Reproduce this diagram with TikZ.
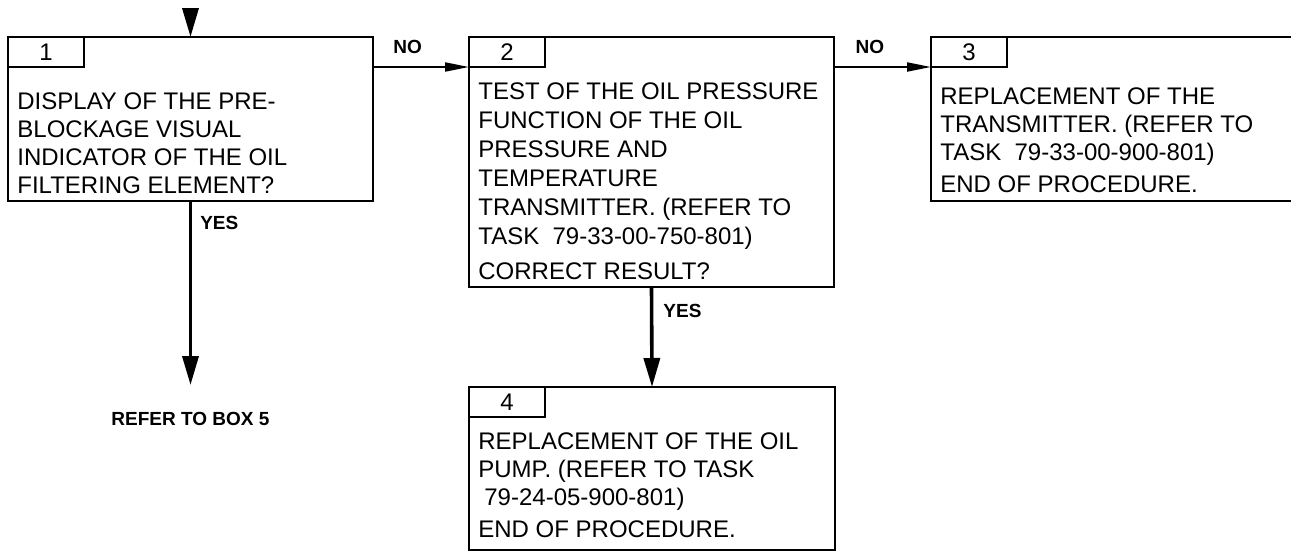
\documentclass[tikz,border=0pt]{standalone}
\usepackage{fontspec}
\setmainfont{Liberation Sans}
\usetikzlibrary{arrows.meta,positioning}

\begin{document}
\begin{tikzpicture}[
  x=0.5pt, y=-0.5pt,
  font=\fontsize{12pt}{14pt}\selectfont,
  taskbox/.style={
    draw,
    line width=1.2pt,
    anchor=north west,
    inner sep=0pt,
    outer sep=0pt,
    minimum width=182.5pt
  },
  numtab/.style={
    draw,
    line width=1.2pt,
    anchor=north west,
    inner sep=0pt,
    outer sep=0pt,
    minimum width=38pt,
    minimum height=15pt
  },
  boxtext/.style={align=left, inner sep=0pt},
  lbl/.style={font=\fontsize{9.5pt}{11pt}\selectfont\bfseries, inner sep=1pt},
  noflow/.style={line width=1pt, -{Triangle[length=12pt,width=4.5pt]}},
  yesflow/.style={line width=1.8pt, -{Triangle[length=14.5pt,width=8pt]}}
]
\useasboundingbox (0,0) rectangle (1291,552);

% boxes
\node[taskbox, minimum height=82pt] (b1) at (8,37) {};
\node[numtab] (t1) at (b1.north west) {1};
\node[boxtext, above right=3.5pt and 4.5pt of b1.south west] (x1) {
  DISPLAY OF THE PRE-\\
  BLOCKAGE VISUAL\\
  INDICATOR OF THE OIL\\
  FILTERING ELEMENT?
};

\node[taskbox, minimum height=125pt] (b2) at (469,37) {};
\node[numtab] (t2) at (b2.north west) {2};
\node[boxtext, font=\fontsize{12pt}{14.5pt}\selectfont,
      above right=3.5pt and 4.5pt of b2.south west] (x2) {
  TEST OF THE OIL PRESSURE\\
  FUNCTION OF THE OIL\\
  PRESSURE AND\\
  TEMPERATURE\\
  TRANSMITTER. (REFER TO\\
  TASK\ \ 79-33-00-750-801)\\[3pt]
  CORRECT RESULT?
};

\node[taskbox, minimum height=82pt] (b3) at (931,37) {};
\node[numtab] (t3) at (b3.north west) {3};
\node[boxtext, above right=4pt and 4.5pt of b3.south west] (x3) {
  REPLACEMENT OF THE\\
  TRANSMITTER. (REFER TO\\
  TASK\ \ 79-33-00-900-801)\\[2pt]
  END OF PROCEDURE.
};

\node[taskbox, minimum height=81.5pt, minimum width=183pt] (b4) at (469,387) {};
\node[numtab] (t4) at (b4.north west) {4};
\node[boxtext, above right=6pt and 4.5pt of b4.south west] (x4) {
  REPLACEMENT OF THE OIL\\
  PUMP. (REFER TO TASK\\
  \hspace*{3pt}79-24-05-900-801)\\[2pt]
  END OF PROCEDURE.
};

% connectors
\coordinate (entry) at ([yshift=14.5pt]b1.north);
\draw[yesflow] (entry) -- (b1.north);
\draw[noflow] (b1.east |- t2.south west) -- node[lbl, above=5pt, pos=0.36] (no1) {NO} (t2.south west);
\draw[noflow] (b2.east |- t3.south west) -- node[lbl, above=5pt, pos=0.37] (no2) {NO} (t3.south west);
\coordinate (refer) at ([yshift=-92pt]b1.south);
\draw[yesflow] (b1.south) -- node[lbl, right=3pt, pos=0.12] (yes1) {YES} (refer);
\node[lbl, below=12.5pt of refer] (box5) {REFER TO BOX 5};
\draw[yesflow] (b2.south) -- node[lbl, right=4pt, pos=0.24] (yes2) {YES} (b4.north);
\end{tikzpicture}
\end{document}
